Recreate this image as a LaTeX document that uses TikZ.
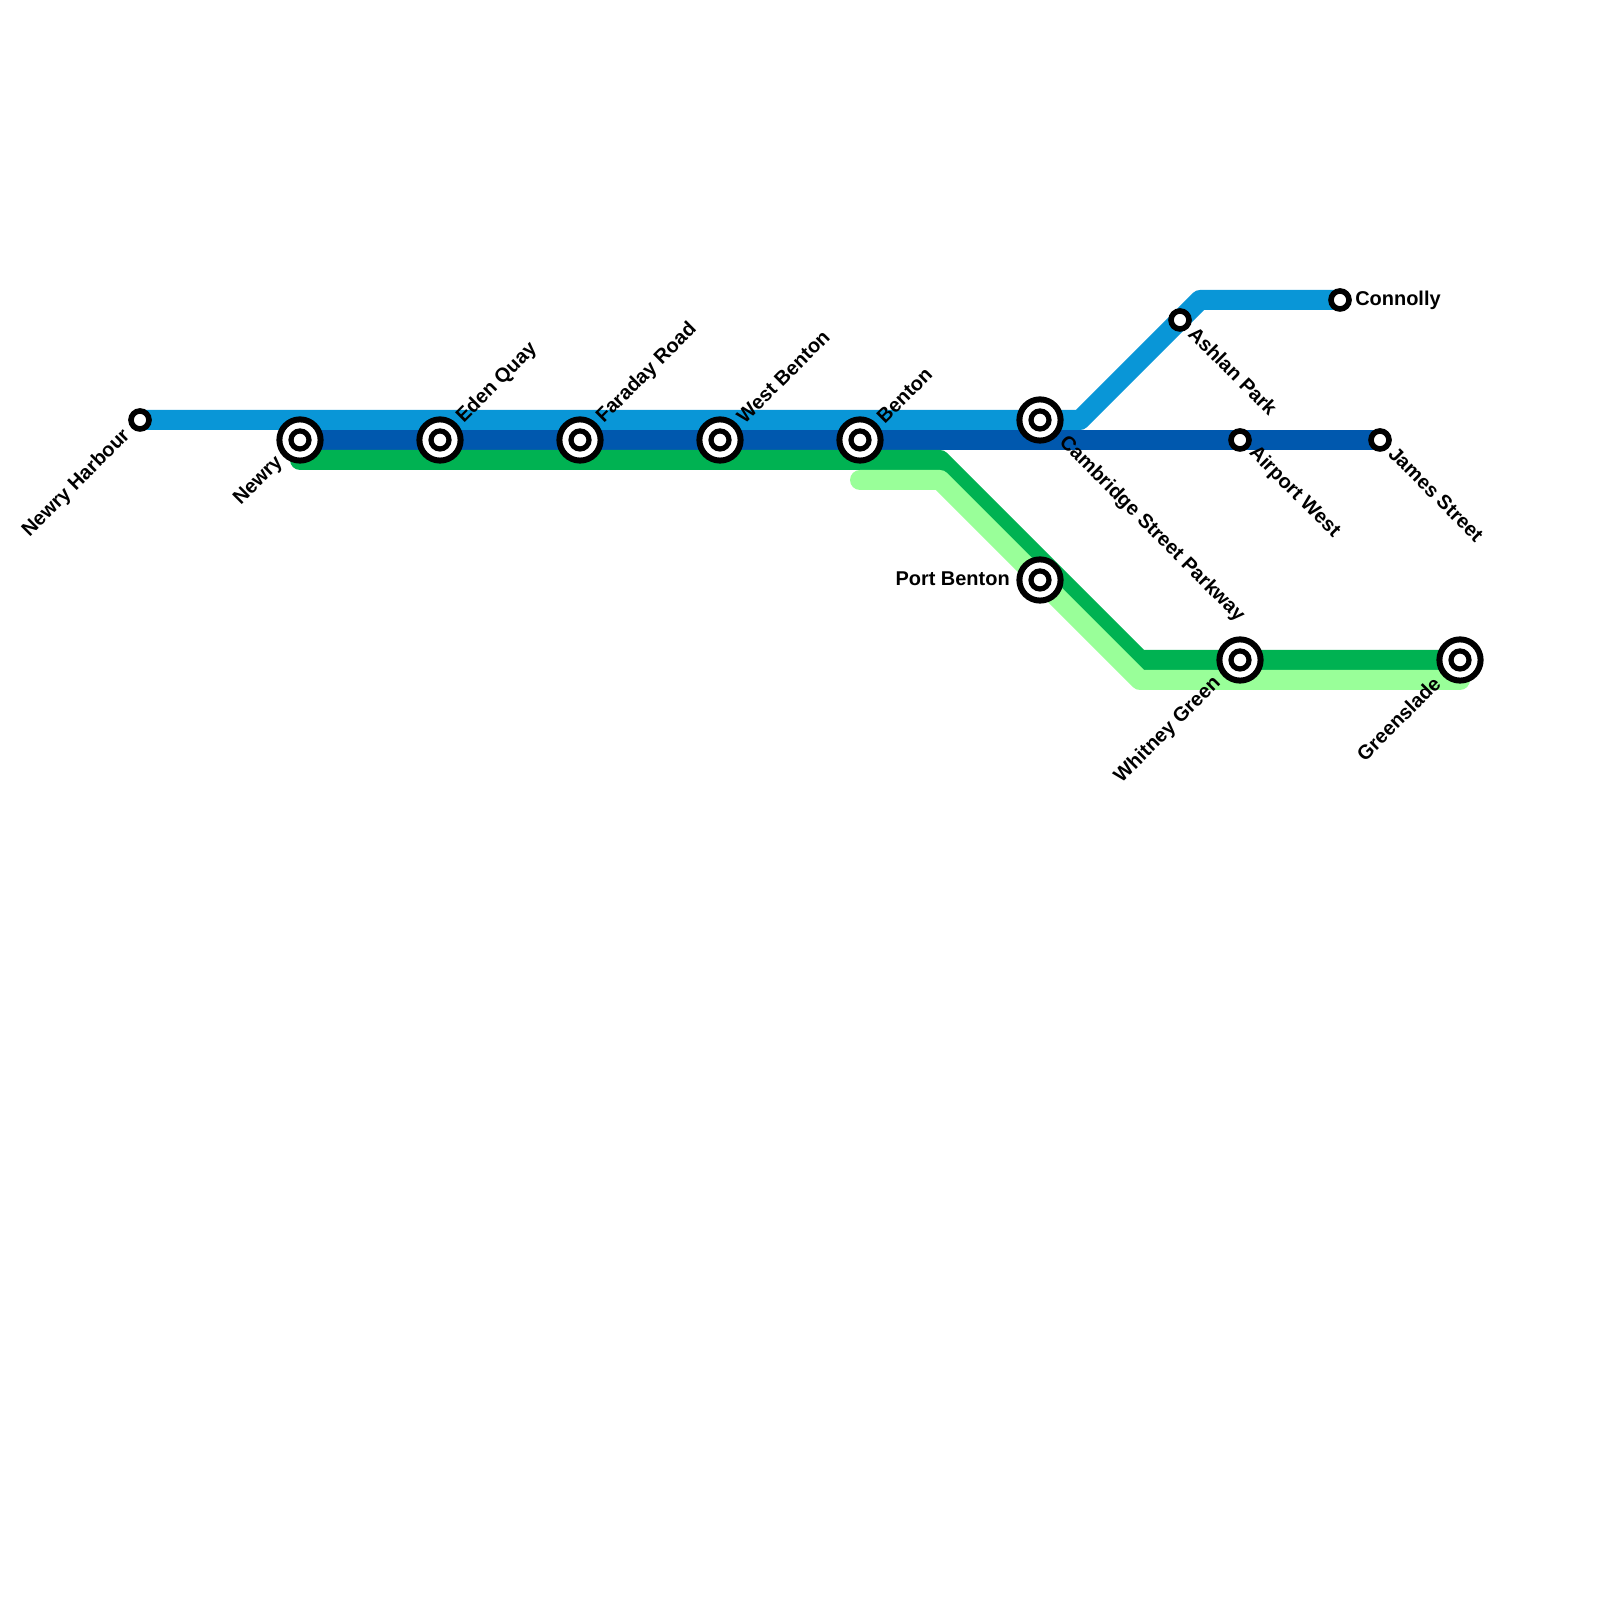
\documentclass[tikz,border=0pt]{standalone}
\usepackage{fontspec}
\setmainfont{Liberation Sans}
\usetikzlibrary{backgrounds}
\definecolor{airport}{RGB}{9,150,215}
\definecolor{central}{RGB}{0,88,174}
\definecolor{coast}{RGB}{0,178,82}
\definecolor{harbour}{RGB}{153,255,153}
\tikzset{
	route/.style={line width=.5cm,line join=round,line cap=round},
	hub/.style={circle,draw=black,fill=white,line width=.15cm,minimum size=1.03cm,inner sep=0pt,outer sep=0pt},
	hubcore/.style={circle,draw=black,fill=white,line width=.13cm,minimum size=.45cm,inner sep=0pt,outer sep=0pt},
	stop/.style={circle,draw=black,fill=white,line width=.14cm,minimum size=.45cm,inner sep=0pt,outer sep=0pt},
	tag/.style={inner sep=0pt,font=\fontsize{14.2}{16}\selectfont\bfseries},
	tagUR/.style={tag,rotate=45,anchor=west},
	tagDR/.style={tag,rotate=-45,anchor=west},
	tagDL/.style={tag,rotate=45,anchor=east},
	tagE/.style={tag,anchor=west},
	tagW/.style={tag,anchor=east},
}
\begin{document}
\begin{tikzpicture}[x=.5cm,y=.5cm]
	\useasboundingbox (0,0) rectangle (80,80);
	% stations first, the routes go behind them
	\foreach \n/\d/\g/\r/\s/\l in {newry/{15,58}/225/1.41/tagDL/Newry,eden/{22,58}/45/1.41/tagUR/Eden Quay,faraday/{29,58}/45/1.41/tagUR/Faraday Road,westbenton/{36,58}/45/1.41/tagUR/West Benton,benton/{43,58}/45/1.41/tagUR/Benton,cambridge/{52,59}/-42/1.49/tagDR/Cambridge Street Parkway,portbenton/{52,51}/178/1.5/tagW/Port Benton,whitney/{62,47}/222/1.49/tagDL/Whitney Green,greenslade/{73,47}/221/1.52/tagDL/Greenslade}{
		\node[hub] (\n) at (\d) {};
		\node[hubcore] (\n-c) at (\d) {};
		\path (\d) +(\g:\r) node[\s] (\n-l) {\l};
	}
	\foreach \n/\d/\g/\r/\s/\l in {newryharbour/{7,59}/225/.9/tagDL/Newry Harbour,ashlan/{59,64}/-40/.78/tagDR/Ashlan Park,connolly/{67,65}/0/.75/tagE/Connolly,airportwest/{62,58}/-40/.78/tagDR/Airport West,james/{69,58}/-40/.78/tagDR/James Street}{
		\node[stop] (\n) at (\d) {};
		\path (\d) +(\g:\r) node[\s] (\n-l) {\l};
	}
	\coordinate (a1) at (54,59);
	\coordinate (a2) at (60,65);
	\coordinate (g0) at (15,57);
	\coordinate (g1) at (47,57);
	\coordinate (g2) at (57,47);
	\coordinate (h0) at (43,56);
	\coordinate (h1) at (47,56);
	\coordinate (h2) at (57,46);
	\coordinate (h3) at (73,46);
	\begin{pgfonlayer}{background}
		\draw[route,airport] (newryharbour.center)--(a1)--(a2)--(connolly.center);
		\draw[route,central] (newry.center)--(james.center);
		\draw[route,coast] (g0)--(g1)--(g2)--(greenslade.center);
		\draw[route,harbour] (h0)--(h1)--(h2)--(h3);
	\end{pgfonlayer}
\end{tikzpicture}
\end{document}
